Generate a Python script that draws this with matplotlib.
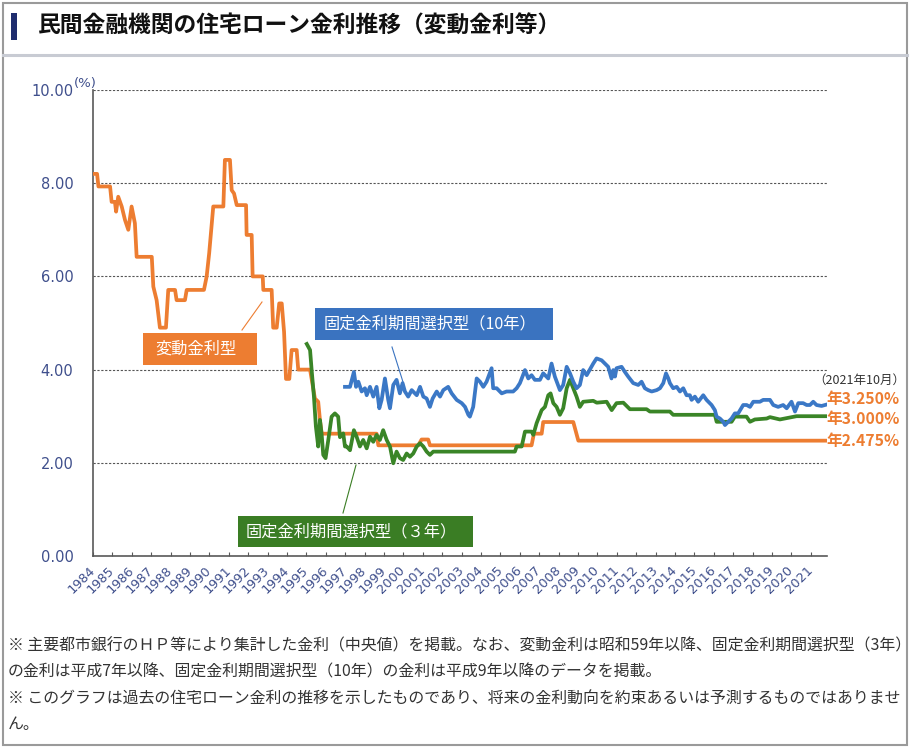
import matplotlib
matplotlib.use("Agg")
import matplotlib.pyplot as plt
from matplotlib.patches import Rectangle
from matplotlib.lines import Line2D

JP = ['Noto Sans CJK JP', 'DejaVu Sans']

# 変動金利型
hendo_year = [1984.05, 1984.21, 1984.28, 1984.88, 1984.96, 1985.13, 1985.19, 1985.30, 1985.48, 1985.65,
              1985.82, 1985.99, 1986.16, 1986.25, 1987.03, 1987.11, 1987.28, 1987.45, 1987.76, 1987.88,
              1988.23, 1988.31, 1988.74, 1988.83, 1989.72, 1989.86, 1989.99, 1990.20, 1990.72, 1990.80,
              1991.06, 1991.15, 1991.27, 1991.41, 1991.89, 1991.92, 1992.18, 1992.23, 1992.75, 1992.78,
              1993.21, 1993.29, 1993.47, 1993.60, 1993.73, 1993.85, 1993.95, 1994.12, 1994.24, 1994.50,
              1994.58, 1995.19, 1995.44, 1995.61, 1995.70, 1995.79, 1998.62, 1998.71, 2000.77, 2000.94,
              2001.28, 2001.37, 2006.61, 2006.73, 2007.13, 2007.21, 2008.76, 2009.02, 2021.82]
hendo_rate = [8.20, 8.20, 7.93, 7.93, 7.60, 7.60, 7.39, 7.71, 7.50, 7.21,
              7.00, 7.50, 7.14, 6.42, 6.42, 5.78, 5.49, 4.90, 4.90, 5.71,
              5.71, 5.49, 5.49, 5.71, 5.71, 6.00, 6.50, 7.50, 7.50, 8.50,
              8.50, 7.85, 7.78, 7.53, 7.53, 6.89, 6.89, 6.00, 6.00, 5.71,
              5.71, 4.90, 4.90, 5.42, 5.42, 4.81, 3.80, 3.80, 4.42, 4.42,
              4.00, 4.00, 3.38, 3.31, 2.92, 2.625, 2.625, 2.375, 2.375, 2.50,
              2.50, 2.375, 2.375, 2.625, 2.625, 2.875, 2.875, 2.475, 2.475]

# 固定金利期間選択型（3年）
fix3_year = [1995.02, 1995.19, 1995.27, 1995.39, 1995.49, 1995.61, 1995.70, 1995.79, 1995.87, 1995.99,
             1996.13, 1996.30, 1996.47, 1996.64, 1996.73, 1996.90, 1996.99, 1997.08, 1997.25, 1997.45,
             1997.59, 1997.76, 1997.93, 1998.11, 1998.28, 1998.45, 1998.62, 1998.79, 1998.96, 1999.14,
             1999.31, 1999.48, 1999.65, 1999.82, 1999.99, 2000.17, 2000.34, 2000.51, 2000.69, 2000.86,
             2001.03, 2001.20, 2001.37, 2001.54, 2005.75, 2005.84, 2006.10, 2006.27, 2006.61, 2006.70,
             2006.87, 2007.13, 2007.30, 2007.47, 2007.59, 2007.73, 2007.90, 2008.07, 2008.24, 2008.42,
             2008.59, 2008.76, 2008.93, 2009.10, 2009.27, 2009.79, 2009.97, 2010.48, 2010.74, 2010.99,
             2011.34, 2011.68, 2012.54, 2012.71, 2013.74, 2013.91, 2016.06, 2016.15, 2016.92, 2017.09,
             2017.69, 2017.87, 2018.12, 2018.73, 2018.90, 2019.41, 2020.27, 2021.82]
fix3_rate = [4.55, 4.42, 4.00, 3.42, 2.78, 2.35, 2.92, 2.60, 2.17, 2.10,
             2.49, 2.99, 3.06, 2.99, 2.55, 2.63, 2.35, 2.35, 2.27, 2.70,
             2.56, 2.35, 2.49, 2.31, 2.56, 2.45, 2.60, 2.49, 2.70, 2.49,
             2.35, 1.99, 2.24, 2.10, 2.06, 2.20, 2.13, 2.20, 2.35, 2.42,
             2.35, 2.24, 2.17, 2.24, 2.24, 2.35, 2.35, 2.67, 2.67, 2.60,
             2.85, 3.13, 3.20, 3.45, 3.49, 3.28, 3.20, 3.03, 3.17, 3.60,
             3.78, 3.60, 3.42, 3.20, 3.31, 3.33, 3.29, 3.31, 3.13, 3.28,
             3.29, 3.15, 3.15, 3.10, 3.10, 3.03, 3.03, 2.88, 2.88, 2.99,
             2.99, 2.88, 2.93, 2.95, 2.98, 2.93, 3.00, 3.00]

# 固定金利期間選択型（10年）
fix10_year = [1996.99, 1997.25, 1997.45, 1997.56, 1997.68, 1997.85, 1998.02, 1998.11, 1998.28, 1998.45,
              1998.62, 1998.76, 1998.88, 1999.05, 1999.22, 1999.31, 1999.48, 1999.65, 1999.82, 1999.96,
              2000.08, 2000.25, 2000.43, 2000.69, 2000.86, 2001.03, 2001.20, 2001.37, 2001.51, 2001.72,
              2001.89, 2002.06, 2002.31, 2002.49, 2002.75, 2003.01, 2003.18, 2003.35, 2003.43, 2003.60,
              2003.78, 2003.95, 2004.12, 2004.29, 2004.55, 2004.63, 2004.81, 2005.07, 2005.32, 2005.66,
              2005.84, 2006.01, 2006.27, 2006.44, 2006.61, 2006.78, 2007.04, 2007.21, 2007.47, 2007.64,
              2007.81, 2008.07, 2008.24, 2008.42, 2008.59, 2008.76, 2008.93, 2009.10, 2009.27, 2009.45,
              2009.79, 2009.96, 2010.22, 2010.39, 2010.56, 2010.73, 2010.82, 2010.91, 2010.99, 2011.25,
              2011.42, 2011.59, 2011.85, 2012.11, 2012.28, 2012.45, 2012.62, 2012.80, 2013.06, 2013.23,
              2013.40, 2013.54, 2013.66, 2013.74, 2013.91, 2014.09, 2014.26, 2014.43, 2014.60, 2014.77,
              2014.86, 2015.03, 2015.20, 2015.46, 2015.63, 2015.89, 2016.06, 2016.15, 2016.32, 2016.49,
              2016.58, 2016.75, 2016.92, 2017.09, 2017.26, 2017.52, 2017.70, 2017.87, 2018.04, 2018.38,
              2018.55, 2018.90, 2019.07, 2019.32, 2019.58, 2019.76, 2020.01, 2020.19, 2020.36, 2020.61,
              2020.79, 2020.96, 2021.13, 2021.30, 2021.56, 2021.82]
fix10_rate = [3.63, 3.63, 3.95, 3.63, 3.74, 3.53, 3.60, 3.45, 3.63, 3.42,
              3.63, 3.17, 3.35, 3.81, 3.35, 3.17, 3.67, 3.78, 3.49, 3.71,
              3.53, 3.42, 3.56, 3.45, 3.63, 3.42, 3.38, 3.20, 3.38, 3.53,
              3.42, 3.56, 3.63, 3.49, 3.35, 3.28, 3.20, 3.03, 2.99, 3.20,
              3.81, 3.74, 3.63, 3.74, 4.03, 3.60, 3.60, 3.49, 3.53, 3.53,
              3.60, 3.71, 3.99, 3.81, 3.88, 3.78, 3.78, 3.92, 3.81, 4.13,
              3.85, 3.56, 3.67, 4.06, 3.92, 3.74, 3.60, 3.67, 3.99, 3.88,
              4.13, 4.24, 4.20, 4.13, 4.06, 3.81, 3.99, 3.85, 4.03, 4.06,
              3.95, 3.85, 3.71, 3.67, 3.74, 3.60, 3.56, 3.53, 3.56, 3.60,
              3.71, 3.92, 3.81, 3.71, 3.60, 3.63, 3.53, 3.60, 3.45, 3.45,
              3.35, 3.42, 3.31, 3.45, 3.35, 3.24, 3.13, 2.99, 2.95, 2.88,
              2.81, 2.88, 2.95, 3.06, 3.06, 3.24, 3.24, 3.20, 3.31, 3.31,
              3.35, 3.35, 3.24, 3.20, 3.24, 3.17, 3.31, 3.10, 3.28, 3.28,
              3.24, 3.24, 3.31, 3.24, 3.22, 3.25]

years = list(range(1984, 2022))
yticks = [0, 2, 4, 6, 8, 10]
end_labels = ['年3.250%', '年3.000%', '年2.475%']
series_names = ['変動金利型', '固定金利期間選択型（10年）', '固定金利期間選択型（３年）']

ORANGE = '#ED7D31'
BLUE = '#3B78C6'
GREEN = '#3A8527'
TICKC = '#3F4F8C'

W, H = 914, 748
fig = plt.figure(figsize=(W / 100, H / 100), dpi=100)


def fx(x):
    return x / W


def fy(y):
    return 1 - y / H


# plot area
ax = fig.add_axes([fx(93), fy(556), fx(827) - fx(93), fy(90) - fy(556)])
ax.plot(hendo_year, hendo_rate, color=ORANGE, lw=2.7, solid_joinstyle='round', zorder=3)
ax.plot(fix3_year, fix3_rate, color=GREEN, lw=2.7, solid_joinstyle='round', zorder=4)
ax.plot(fix10_year, fix10_rate, color=BLUE, lw=2.7, solid_joinstyle='round', zorder=5)

ax.set_xlim(1984, 2021.84)
ax.set_ylim(0, 10)
ax.set_yticks(yticks)
ax.set_yticklabels(['%.2f' % v for v in yticks], fontsize=10.5, color=TICKC)
ax.tick_params(axis='y', length=0, pad=14)
ax.set_xticks(years)
ax.set_xticklabels([str(y) for y in years], rotation=45, ha='right', va='center',
                   rotation_mode='anchor', fontsize=9.3, color=TICKC)
ax.tick_params(axis='x', direction='in', length=3, width=0.8, color='#595959', pad=9)
ax.yaxis.grid(True, linestyle=(0, (2, 1.5)), color='#555555', lw=0.8)
ax.set_axisbelow(True)
for s in ['top', 'right']:
    ax.spines[s].set_visible(False)
for s in ['left', 'bottom']:
    ax.spines[s].set_color('#595959')
    ax.spines[s].set_linewidth(1.2)

fig.text(fx(74), fy(83), '(%)', fontsize=9.5, color=TICKC, ha='left', va='center')

# series name boxes with leader lines
boxes = [(143, 333, 257, 365, ORANGE, series_names[0], (242, 330, 262, 302)),
         (315, 308, 553, 340, '#3A73C0', series_names[1], (392, 347, 403, 382)),
         (238, 516, 473, 547, '#3A7D24', series_names[2], (343, 513, 356, 465))]
for x0, y0, x1, y1, c, name, ld in boxes:
    fig.add_artist(Rectangle((fx(x0), fy(y1)), (x1 - x0) / W, (y1 - y0) / H,
                             transform=fig.transFigure, facecolor=c, edgecolor='none'))
    fig.text(fx((x0 + x1) / 2 - 4), fy((y0 + y1) / 2), name, family=JP, fontsize=11.7,
             color='white', ha='center', va='center')
    fig.add_artist(Line2D([fx(ld[0]), fx(ld[2])], [fy(ld[1]), fy(ld[3])],
                          transform=fig.transFigure, color=c, lw=0.8))

# end values
fig.text(fx(813), fy(380), '（2021年10月）', family=JP, fontsize=9, color='#333333',
         ha='left', va='center')
for lab, yy in zip(end_labels, [399, 419, 441]):
    fig.text(fx(826), fy(yy), lab, family=JP, fontsize=11.3, fontweight='bold',
             color=ORANGE, ha='left', va='center')

# title
fig.add_artist(Rectangle((fx(11), fy(40)), 6 / W, 27 / H, transform=fig.transFigure,
                         facecolor='#1F2D6E', edgecolor='none'))
fig.text(fx(38), fy(26), '民間金融機関の住宅ローン金利推移（変動金利等）', family=JP,
         fontsize=16.4, fontweight='bold', color='#111111', ha='left', va='center')
fig.add_artist(Line2D([fx(3), fx(907)], [fy(55), fy(55)], transform=fig.transFigure,
                      color='#C8CBD3', lw=2.2))

# outer frame
fig.add_artist(Rectangle((fx(3), fy(745)), 904 / W, 742 / H, transform=fig.transFigure,
                         facecolor='none', edgecolor='#9A9A9A', lw=1.5))

# footnotes
notes = ['※ 主要都市銀行のＨＰ等により集計した金利（中央値）を掲載。なお、変動金利は昭和59年以降、固定金利期間選択型（3年）',
         'の金利は平成7年以降、固定金利期間選択型（10年）の金利は平成9年以降のデータを掲載。',
         '※ このグラフは過去の住宅ローン金利の推移を示したものであり、将来の金利動向を約束あるいは予測するものではありませ',
         'ん。']
for i, line in enumerate(notes):
    fig.text(fx(8), fy(646 + 26 * i), line, family=JP, fontsize=11.45, color='#333333',
             ha='left', va='center')

fig.savefig('out.png', dpi=100)
